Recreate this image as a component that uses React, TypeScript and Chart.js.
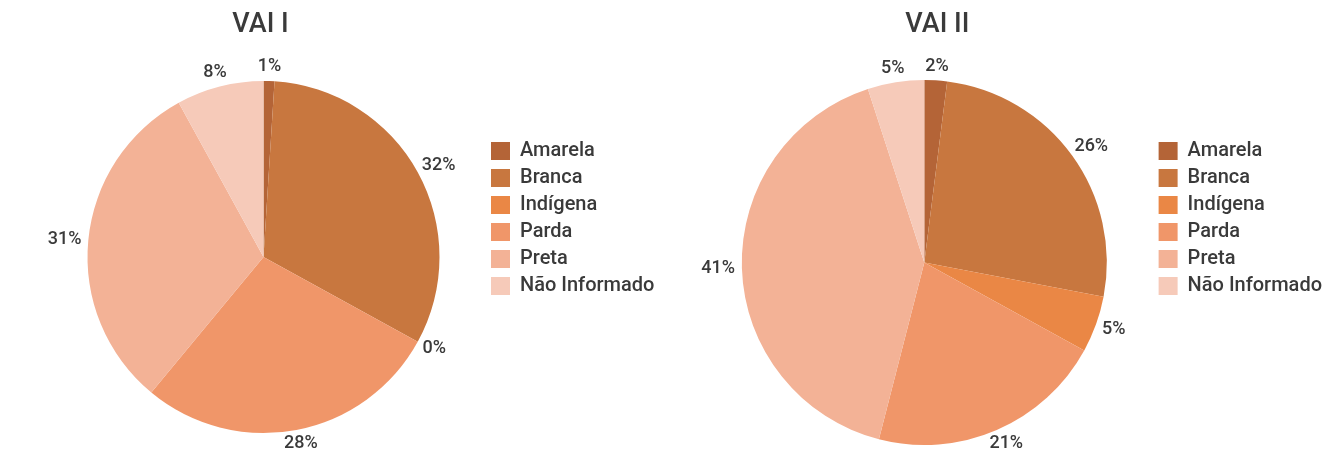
import React, { useEffect, useRef } from 'react';
import { Chart, registerables } from 'chart.js';

Chart.register(...registerables);

// ---- data ----
const categories = ['Amarela', 'Branca', 'Indígena', 'Parda', 'Preta', 'Não Informado'];
const vai1Title = 'VAI I';
const vai1Values = [1, 32, 0, 28, 31, 8];
const vai2Title = 'VAI II';
const vai2Values = [2, 26, 5, 21, 41, 5];
const sliceColors = ['#b46437', '#c8773f', '#ea8745', '#f09669', '#f3b296', '#f6cab9'];

const FONT = 'Roboto, "Open Sans", "DejaVu Sans", sans-serif';
const TEXT = '#3a3a3a';
const LEGEND_SIZE = 20;
const LEGEND_PAD = 7;
const BOX_W = 19;
const CANVAS_W = 666;

const outsideLabels = {
  id: 'outsideLabels',
  afterDatasetsDraw(chart: any, _args: any, opts: any) {
    const ctx = chart.ctx;
    const meta = chart.getDatasetMeta(0);
    const values = chart.data.datasets[0].data as number[];
    ctx.save();
    ctx.font = `500 ${opts.size}px ${FONT}`;
    ctx.fillStyle = TEXT;
    ctx.textAlign = 'center';
    ctx.textBaseline = 'middle';
    meta.data.forEach((arc: any, i: number) => {
      const p = arc.getProps(['x', 'y', 'startAngle', 'endAngle', 'outerRadius'], true);
      const mid = (p.startAngle + p.endAngle) / 2;
      const text = values[i] + '%';
      const w = ctx.measureText(text).width;
      const h = opts.size * 0.8;
      const R = p.outerRadius + opts.gap;
      const cx = p.x + Math.cos(mid) * (R + w / 2);
      const cy = p.y + Math.sin(mid) * (R + h / 2);
      ctx.fillText(text, cx, cy);
    });
    ctx.restore();
  },
};

const placeBoxes = {
  id: 'placeBoxes',
  afterLayout(chart: any, _args: any, opts: any) {
    const a = chart.chartArea;
    const t = chart.titleBlock;
    if (t) {
      const c = (a.left + a.right) / 2 + (opts.titleDx || 0);
      const half = (t.right - t.left) / 2;
      t.left = c - half;
      t.right = c + half;
    }
    const l = chart.legend;
    if (l) {
      l.top = opts.legendTop;
      l.bottom = chart.height;
    }
  },
};

function legendNaturalWidth(): number {
  const c = document.createElement('canvas').getContext('2d');
  if (!c) return 175;
  c.font = `500 ${LEGEND_SIZE}px ${FONT}`;
  const tw = Math.max(...categories.map((s) => c.measureText(s).width));
  return LEGEND_PAD + BOX_W + LEGEND_SIZE / 2 + tw + 10;
}

type Setup = {
  title: string;
  values: number[];
  padL: number;
  legendLeft: number;
  padB: number;
  titleBottom: number;
  titleDx: number;
};

function PieChart({ setup }: { setup: Setup }) {
  const ref = useRef<HTMLCanvasElement | null>(null);
  useEffect(() => {
    if (!ref.current) return;
    const lw = legendNaturalWidth();
    const padR = Math.max(0, CANVAS_W - setup.legendLeft - lw);
    const chart = new Chart(ref.current, {
      type: 'pie',
      data: {
        labels: categories,
        datasets: [
          {
            data: setup.values,
            backgroundColor: sliceColors,
            borderWidth: 0,
            hoverBorderWidth: 0,
            hoverOffset: 0,
          },
        ],
      },
      options: {
        responsive: false,
        animation: false,
        events: [],
        layout: { padding: { left: setup.padL, right: padR, top: 0, bottom: setup.padB } },
        plugins: {
          title: {
            display: true,
            text: setup.title,
            color: TEXT,
            font: { family: FONT, size: 27, weight: '500' },
            padding: { top: 9, bottom: setup.titleBottom },
          },
          legend: {
            display: true,
            position: 'right',
            align: 'start',
            labels: {
              boxWidth: BOX_W,
              boxHeight: 18,
              padding: LEGEND_PAD,
              color: TEXT,
              font: { family: FONT, size: LEGEND_SIZE, weight: '500' },
            },
          },
          tooltip: { enabled: false },
          outsideLabels: { size: 18, gap: 7 },
          placeBoxes: { titleDx: setup.titleDx, legendTop: 134 },
        } as any,
      },
      plugins: [outsideLabels, placeBoxes],
    });
    return () => chart.destroy();
  }, [setup]);
  return <canvas ref={ref} width={CANVAS_W} height={457} style={{ display: 'block' }} />;
}

const setup1: Setup = { title: vai1Title, values: vai1Values, padL: 43, legendLeft: 484, padB: 24, titleBottom: 39.6, titleDx: -3 };
const setup2: Setup = { title: vai2Title, values: vai2Values, padL: 31, legendLeft: 488, padB: 12, titleBottom: 38.6, titleDx: 13 };

export default function App() {
  return (
    <div style={{ position: 'absolute', left: 0, top: 0, width: 1332, height: 457, background: '#fff', display: 'flex' }}>
      <PieChart setup={setup1} />
      <PieChart setup={setup2} />
    </div>
  );
}
